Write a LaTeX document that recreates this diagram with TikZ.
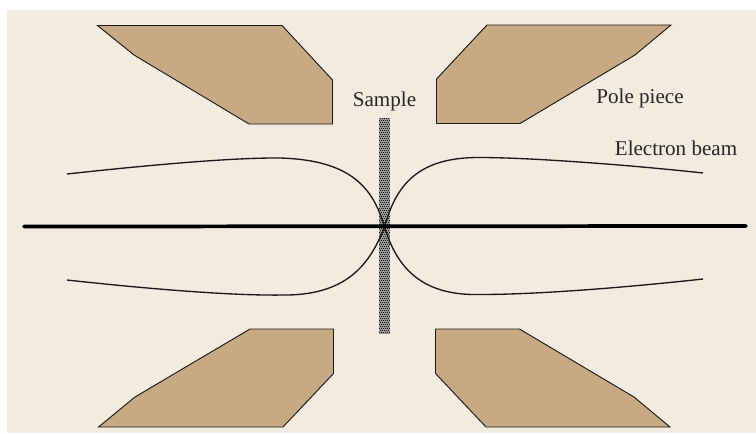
\documentclass[tikz,border=0pt]{standalone}
\usepackage{fontspec}
\setmainfont{Liberation Serif}
\definecolor{bgcol}{HTML}{F3EBDF}
\definecolor{polecol}{HTML}{C7A983}
\tikzset{
  pole/.style={draw=black!90,fill=polecol,line width=0.7pt,line join=miter},
  beam/.style={draw=black!90,line width=1pt},
  lbl/.style={inner sep=0pt,anchor=base,text=black!85,font=\fontsize{15.8pt}{18pt}\selectfont}
}
\begin{document}
\begin{tikzpicture}[x=0.75pt,y=-0.75pt]
\useasboundingbox (0,0) rectangle (756,433);
\fill[bgcol] (7,10) rectangle (756,433);
\draw[pole] (97.5,25.5) -- (282,25.5) -- (332.5,80) -- (332.5,124) -- (249,124) -- (134,55) -- cycle;
\draw[pole] (487,25) -- (671,25) -- (635,55) -- (520,123.5) -- (436.5,123.5) -- (436.5,79) -- cycle;
\draw[pole] (98.5,427) -- (135,397) -- (250,329) -- (333.5,329) -- (333.5,373.5) -- (283,427) -- cycle;
\draw[pole] (486,427) -- (670,427) -- (634,397) -- (519.5,329) -- (435.5,329) -- (435.5,373.5) -- cycle;
% sample
\fill[black!40] (379,118) rectangle (390,334);
\foreach \r in {0,...,107}{
  \foreach \c in {0,...,5}{
    \pgfmathsetmacro{\xx}{379+2*\c-mod(\r,2)+1}
    \pgfmathsetmacro{\yy}{118+2*\r}
    \ifdim\xx pt<389.5pt \fill[black!90] (\xx,\yy) rectangle ++(1.3,1.3);\fi
  }
}
% beams
\coordinate (c) at (384.5,227);
\draw[beam] (67,174) .. controls (140,166) and (230,157.5) .. (280,158) .. controls (350,160) and (373,187) .. (c);
\draw[beam] (703,173) .. controls (630,165) and (530,157.5) .. (480,157.5) .. controls (418,157) and (396,185) .. (c);
\draw[beam] (67,280) .. controls (140,288) and (230,296) .. (285,295) .. controls (352,295) and (372,258) .. (c);
\draw[beam] (703,279) .. controls (630,287) and (540,294.5) .. (480,294.5) .. controls (418,296) and (396,264) .. (c);
\draw[black,line width=2.8pt,line cap=round] (24,226.5) -- (746,226);
\node[lbl] (s) at (384.5,106.5) {Sample};
\node[lbl] (p) at (640,103.5) {Pole piece};
\node[lbl] (e) at (676,155) {Electron beam};
\end{tikzpicture}
\end{document}
